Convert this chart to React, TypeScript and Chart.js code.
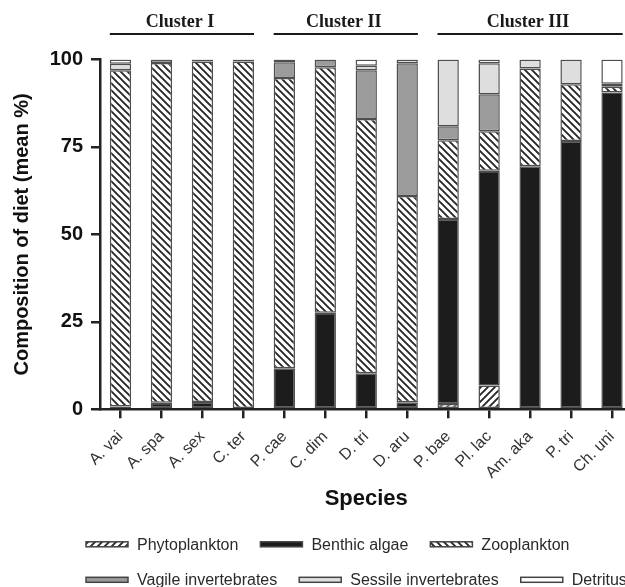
import React, { useEffect, useRef } from "react";
import { Chart, registerables } from "chart.js";

Chart.register(...registerables);

// ---------------- data ----------------
const species = ["A. vai", "A. spa", "A. sex", "C. ter", "P. cae", "C. dim", "D. tri", "D. aru", "P. bae", "Pl. lac", "Am. aka", "P. tri", "Ch. uni"];
const phytoplankton = [0, 0, 0, 0, 0, 0, 0, 0, 1.5, 6.8, 0, 0, 0];
const benthicAlgae = [0.8, 1.9, 2.1, 0, 11.7, 27.6, 10.3, 2.0, 52.9, 61.4, 69.5, 76.7, 90.6];
const zooplankton = [96.1, 97.1, 97.3, 99.4, 83.0, 70.2, 72.7, 59.0, 22.5, 11.3, 27.9, 16.2, 1.6];
const vagileInvertebrates = [0, 1.0, 0.6, 0.6, 4.5, 2.2, 13.9, 37.9, 4.0, 10.6, 0, 0, 0.9];
const sessileInvertebrates = [1.9, 0, 0, 0, 0.8, 0, 1.3, 1.1, 19.1, 8.8, 2.6, 7.1, 0];
const detritus = [1.2, 0, 0, 0, 0, 0, 1.8, 0, 0, 1.1, 0, 0, 6.9];

const seriesLabels = ["Phytoplankton", "Benthic algae", "Zooplankton", "Vagile invertebrates", "Sessile invertebrates", "Detritus"];
const yTicks = [0, 25, 50, 75, 100];

const clusterNames = ["Cluster I", "Cluster II", "Cluster III"];
const clusterFirst = ["A. vai", "P. cae", "P. bae"];
const clusterLast = ["C. ter", "D. aru", "Ch. uni"];

// ---------------- styling ----------------
const SANS = '"Liberation Sans", Arial, Helvetica, sans-serif';
const SERIF = '"Liberation Serif", "Times New Roman", serif';
const BAR_PCT = 0.52;

function hatch(dir: string): CanvasPattern | string {
  const s = 7;
  const c = document.createElement("canvas");
  c.width = s;
  c.height = s;
  const g = c.getContext("2d");
  if (!g) return "#888";
  g.fillStyle = "#ffffff";
  g.fillRect(0, 0, s, s);
  g.strokeStyle = "#262626";
  g.lineWidth = 1.9;
  g.beginPath();
  for (const o of [-s, 0, s]) {
    if (dir === "/") {
      g.moveTo(o - 1, s + 1);
      g.lineTo(o + s + 1, -1);
    } else {
      g.moveTo(o - 1, -1);
      g.lineTo(o + s + 1, s + 1);
    }
  }
  g.stroke();
  return g.createPattern(c, "repeat") || "#888";
}

const decorPlugin = {
  id: "decor",
  afterDraw(chart: any) {
    const ctx: CanvasRenderingContext2D = chart.ctx;
    const xs = chart.scales.x;
    const area = chart.chartArea;
    const step = xs.getPixelForValue(1) - xs.getPixelForValue(0);
    const half = (step * BAR_PCT) / 2;
    ctx.save();
    // cluster headers
    clusterNames.forEach((name, i) => {
      const a = xs.getPixelForValue(species.indexOf(clusterFirst[i])) - half;
      const b = xs.getPixelForValue(species.indexOf(clusterLast[i])) + half;
      const ly = area.top - 25.5;
      ctx.strokeStyle = "#1a1a1a";
      ctx.lineWidth = 2;
      ctx.beginPath();
      ctx.moveTo(a, ly);
      ctx.lineTo(b, ly);
      ctx.stroke();
      ctx.font = "bold 18px " + SERIF;
      ctx.fillStyle = "#1a1a1a";
      ctx.textAlign = "center";
      ctx.textBaseline = "middle";
      ctx.fillText(name, (a + b) / 2 - 2, ly - 11.5);
    });
    // legend
    const boxW = 42;
    const boxH = 5;
    const textGap = 9;
    const itemGap = 22;
    const startX = 86;
    let x = startX;
    let y = area.bottom + 135;
    ctx.font = "16px " + SANS;
    ctx.textAlign = "left";
    ctx.textBaseline = "middle";
    chart.data.datasets.forEach((ds: any) => {
      const tw = ctx.measureText(ds.label).width;
      const w = boxW + textGap + tw;
      if (x > startX && x + w > chart.width) {
        x = startX;
        y += 35.5;
      }
      ctx.fillStyle = ds.backgroundColor;
      ctx.fillRect(x, y - boxH / 2, boxW, boxH);
      ctx.strokeStyle = "#444";
      ctx.lineWidth = 1.5;
      ctx.strokeRect(x, y - boxH / 2, boxW, boxH);
      ctx.fillStyle = "#2a2a2a";
      ctx.fillText(ds.label, x + boxW + textGap, y + 1);
      x += w + itemGap;
    });
    ctx.restore();
  },
};

export default function App() {
  const ref = useRef<HTMLCanvasElement | null>(null);

  useEffect(() => {
    const canvas = ref.current;
    if (!canvas) return;
    const fills: any[] = [hatch("/"), "#1c1c1c", hatch("\\"), "#9b9b9b", "#dedede", "#ffffff"];
    const series = [phytoplankton, benthicAlgae, zooplankton, vagileInvertebrates, sessileInvertebrates, detritus];
    const chart = new Chart(canvas, {
      type: "bar",
      data: {
        labels: species,
        datasets: series.map((d, i) => ({
          label: seriesLabels[i],
          data: d,
          backgroundColor: fills[i],
          borderColor: "#4e4e4e",
          borderWidth: 1.5,
          borderSkipped: false,
          barPercentage: BAR_PCT,
          categoryPercentage: 1,
        })),
      },
      options: {
        responsive: false,
        animation: false,
        layout: { padding: { top: 59.5, right: 8.5, left: 0, bottom: 0 } },
        plugins: {
          legend: { display: false },
          tooltip: { enabled: false },
        },
        scales: {
          x: {
            stacked: true,
            grid: { drawOnChartArea: false, drawTicks: true, tickLength: 9, color: "#222", lineWidth: 2.5, offset: false },
            border: { display: true, color: "#222", width: 2.5 },
            ticks: {
              autoSkip: false,
              minRotation: 45,
              maxRotation: 45,
              padding: 9,
              color: "#333",
              font: { family: SANS, size: 16 },
            },
            title: {
              display: true,
              text: "Species",
              color: "#111",
              font: { family: SANS, size: 22, weight: "bold" },
              padding: { top: 0, bottom: 75 },
            },
            afterFit: (s: any) => {
              s.height = 177.7;
            },
          },
          y: {
            stacked: true,
            min: 0,
            max: 100,
            afterBuildTicks: (s: any) => {
              s.ticks = yTicks.map((v) => ({ value: v }));
            },
            ticks: {
              padding: 8,
              color: "#111",
              font: { family: SANS, size: 20, weight: "bold" },
            },
            grid: { drawOnChartArea: false, drawTicks: true, tickLength: 9, color: "#222", lineWidth: 2.5 },
            border: { display: true, color: "#222", width: 2.5 },
            title: {
              display: true,
              text: "Composition of diet (mean %)",
              color: "#111",
              font: { family: SANS, size: 20, weight: "bold" },
              padding: { top: 10, bottom: 0 },
            },
            afterFit: (s: any) => {
              s.width = 100;
            },
          },
        },
      } as any,
      plugins: [decorPlugin],
    });
    return () => chart.destroy();
  }, []);

  return (
    <div style={{ position: "fixed", left: 0, top: 0, width: 625, height: 587, overflow: "hidden", background: "#fff" }}>
      <canvas ref={ref} width={641} height={587} style={{ display: "block" }} />
    </div>
  );
}
